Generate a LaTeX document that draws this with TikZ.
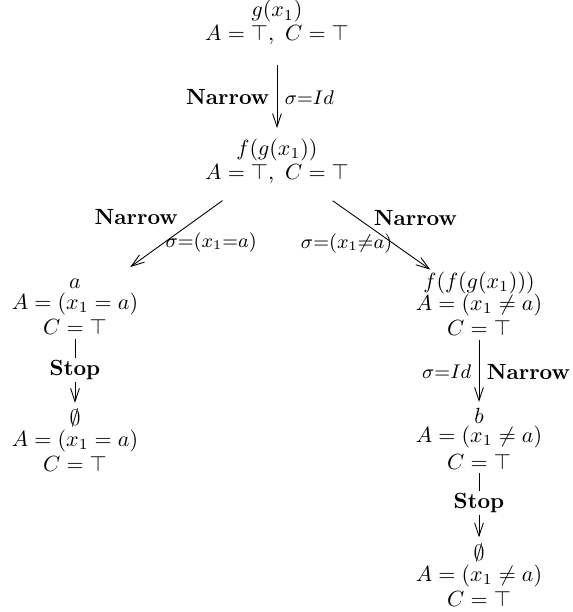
\documentclass[tikz,border=0pt]{standalone}
\usepackage{amsmath,amssymb}
\usepackage{tikz}
\usetikzlibrary{arrows.meta}

\begin{document}
\begin{tikzpicture}[x=0.455pt,y=-0.455pt,
    state/.style={align=center,inner sep=0pt,outer sep=0pt},
    narrow/.style={-{Straight Barb[length=6pt,width=4pt]}},
    vstep/.style={narrow,shorten <=1.8pt,shorten >=2.8pt},
    rule/.style={font=\bfseries},
    subst/.style={font=\small}]
        \useasboundingbox (0,0) rectangle (572,612);
        \node[state] (gx) at (277,22.5) {$g(x_1)$\\[-1.4pt] $A=\top,\ C=\top$};
        \node[state] (fgx) at (277,161.4) {$f(g(x_1))$\\[-1.2pt] $A=\top,\ C=\top$};
        \node[state] (a) at (75,306.8) {$a$\\[-2.4pt] $A=(x_1=a)$\\[-0.5pt] $C=\top$};
        \node[state] (emptyl) at (75,440.5) {$\emptyset$\\[-2.4pt] $A=(x_1=a)$\\[-0.5pt] $C=\top$};
        \node[state] (ffgx) at (479,304) {$f(f(g(x_1)))$\\[-2pt] $A=(x_1\neq a)$\\[-0.5pt] $C=\top$};
        \node[state] (b) at (479,438.8) {$b$\\[-3.5pt] $A=(x_1\neq a)$\\[0.5pt] $C=\top$};
        \node[state] (emptyr) at (479,575) {$\emptyset$\\[-2.4pt] $A=(x_1\neq a)$\\[-0.5pt] $C=\top$};

        \draw[narrow,shorten <=9.3pt,shorten >=5pt] (gx) --
          node[pos=0.56,left,rule] {Narrow}
          node[pos=0.56,right,subst] {$\sigma{=}Id$} (fgx);
        \draw[narrow,shorten <=13.2pt,shorten >=9.2pt] (fgx) --
          node[pos=0.48,above left,rule,inner sep=2pt] {Narrow}
          node[pos=0.62,right,subst,inner sep=0.5pt] {$\sigma{=}(x_1{=}a)$} (a);
        \draw[narrow,shorten <=13.5pt,shorten >=2pt] (fgx) --
          node[pos=0.5,above right,rule,inner sep=1pt] {Narrow}
          node[pos=0.68,left,subst,inner sep=0.5pt] {$\sigma{=}(x_1{\neq}a)$} (ffgx);
        \draw[vstep] (a) -- node[pos=0.47,fill=white,inner sep=1pt,rule] {Stop} (emptyl);
        \draw[vstep] (ffgx) --
          node[left,subst] {$\sigma{=}Id$}
          node[right,rule] {Narrow} (b);
        \draw[vstep] (b) -- node[pos=0.45,fill=white,inner sep=1pt,rule] {Stop} (emptyr);
      \end{tikzpicture}
\end{document}
